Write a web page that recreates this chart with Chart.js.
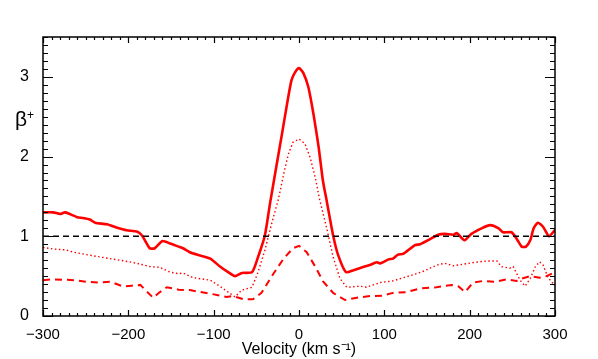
<!DOCTYPE html>
<html>
<head>
<meta charset="utf-8">
<script src="https://cdn.jsdelivr.net/npm/chart.js@4"></script>
<style>
  html, body { margin: 0; padding: 0; background: #fff; }
  #wrap { width: 598px; height: 359px; }
</style>
</head>
<body>
<div id="wrap"><canvas id="beta-chart"></canvas></div>
<script>
// values (velocity in km/s, beta+)
const solidV = [-300, -288, -280, -274, -260, -253, -245, -239, -225, -214, -202, -190, -184, -175, -169, -160, -151, -141, -136, -128, -116, -104, -93, -83, -75, -67, -55, -48, -40, -34, -26, -20, -14, -9, -5, 0, 5, 11, 17, 23, 28, 32, 40, 46, 55, 64, 71, 83, 91, 95, 105, 110, 116, 122, 136, 142, 153, 163, 171, 181, 185, 194, 202, 214, 224, 234, 239, 249, 255, 261, 266, 271, 275, 280, 286, 293, 300];
const solidB = [1.30, 1.30, 1.28, 1.30, 1.24, 1.23, 1.21, 1.17, 1.15, 1.11, 1.075, 1.06, 1.01, 0.85, 0.85, 0.94, 0.91, 0.87, 0.85, 0.80, 0.76, 0.72, 0.625, 0.55, 0.50, 0.54, 0.55, 0.74, 1.01, 1.41, 1.91, 2.28, 2.66, 2.95, 3.05, 3.11, 3.05, 2.87, 2.53, 2.12, 1.70, 1.47, 1.01, 0.76, 0.55, 0.575, 0.60, 0.64, 0.675, 0.66, 0.71, 0.72, 0.77, 0.78, 0.89, 0.90, 0.96, 1.02, 1.03, 1.02, 1.04, 0.95, 1.03, 1.10, 1.14, 1.10, 1.05, 1.05, 0.97, 0.87, 0.87, 0.95, 1.10, 1.17, 1.12, 1.00, 1.08];

const dotV = [-300, -288, -274, -264, -249, -233, -210, -196, -182, -175, -163, -151, -141, -136, -124, -104, -93, -83, -75, -67, -55, -48, -40, -32, -24, -18, -12.5, -7, 0, 7, 13, 19, 24, 32.5, 40, 48, 56, 71, 79, 95, 110, 122, 136, 148, 153, 165, 171, 181, 193, 204, 220, 232, 237, 247, 251, 259, 265, 271, 277, 282, 286, 292, 296, 300];
const dotB = [0.86, 0.84, 0.83, 0.80, 0.77, 0.74, 0.70, 0.675, 0.64, 0.62, 0.61, 0.55, 0.53, 0.54, 0.48, 0.45, 0.375, 0.30, 0.24, 0.325, 0.36, 0.55, 0.825, 1.16, 1.47, 1.78, 2.03, 2.18, 2.22, 2.16, 1.99, 1.74, 1.47, 1.10, 0.74, 0.47, 0.36, 0.375, 0.36, 0.42, 0.44, 0.48, 0.525, 0.57, 0.60, 0.65, 0.66, 0.63, 0.65, 0.67, 0.69, 0.69, 0.62, 0.60, 0.62, 0.45, 0.375, 0.47, 0.62, 0.68, 0.64, 0.48, 0.43, 0.38];

const dashV = [-300, -288, -264, -249, -233, -221, -206, -196, -186, -180, -171, -163, -155, -141, -128, -104, -85, -77, -65, -54, -44, -30, -18, -7, 0, 9, 19, 28.5, 40, 54, 68, 83, 97, 110, 126, 142, 153, 161, 179, 187, 194.5, 204, 216, 230, 243, 255, 261, 271, 282, 290, 298, 300];
const dashB = [0.45, 0.46, 0.45, 0.43, 0.42, 0.43, 0.37, 0.38, 0.39, 0.325, 0.23, 0.30, 0.36, 0.33, 0.325, 0.28, 0.24, 0.25, 0.21, 0.21, 0.29, 0.53, 0.72, 0.85, 0.88, 0.80, 0.62, 0.43, 0.29, 0.20, 0.23, 0.25, 0.255, 0.29, 0.30, 0.345, 0.355, 0.36, 0.39, 0.37, 0.30, 0.42, 0.44, 0.43, 0.46, 0.44, 0.47, 0.50, 0.48, 0.50, 0.54, 0.53];

const refV = [-300, 300];
const refB = [1, 1];

const xTicks = [-300, -200, -100, 0, 100, 200, 300];
const yTicks = [0, 1, 2, 3];

const FONT = '"Liberation Sans", Arial, Helvetica, sans-serif';

function pts(xs, ys) {
    return xs.map((x, i) => ({ x: x, y: ys[i] }));
}

// IDL-style frame with inward ticks on all four sides, plus the upright beta+ label
const framePlugin = {
    id: 'frame',
    afterDraw(chart) {
        const c = chart.ctx;
        const a = chart.chartArea;
        const xs = chart.scales.x;
        const ys = chart.scales.y;
        c.save();
        c.strokeStyle = '#000';
        c.lineWidth = 1.5;
        c.strokeRect(a.left, a.top, a.right - a.left, a.bottom - a.top);
        c.lineWidth = 1.2;
        c.beginPath();
        for (let v = -300; v <= 300; v += 10) {
            const px = Math.round(xs.getPixelForValue(v)) + 0.5;
            const len = (v % 100 === 0) ? 6 : 3;
            c.moveTo(px, a.bottom); c.lineTo(px, a.bottom - len);
            c.moveTo(px, a.top); c.lineTo(px, a.top + len);
        }
        for (let k = 0; k <= 35; k++) {
            const py = Math.round(ys.getPixelForValue(k / 10)) + 0.5;
            const len = (k % 10 === 0) ? 10 : 5;
            c.moveTo(a.left, py); c.lineTo(a.left + len, py);
            c.moveTo(a.right, py); c.lineTo(a.right - len, py);
        }
        c.stroke();

        c.fillStyle = '#000';
        c.textBaseline = 'alphabetic';
        c.font = '21px ' + FONT;
        c.fillText('β', 15, 126);
        c.font = '12px ' + FONT;
        c.fillText('+', 27, 119);
        c.restore();
    }
};

new Chart(document.getElementById('beta-chart'), {
    type: 'line',
    data: {
        datasets: [
            { data: pts(refV, refB), borderColor: '#000', borderWidth: 1.5, borderDash: [6, 4] },
            { data: pts(dashV, dashB), borderColor: '#ff0000', borderWidth: 2, borderDash: [7, 5] },
            { data: pts(dotV, dotB), borderColor: '#ff0000', borderWidth: 1.4, borderDash: [1.5, 2.5] },
            { data: pts(solidV, solidB), borderColor: '#ff0000', borderWidth: 2.6, tension: 0.2 }
        ]
    },
    options: {
        responsive: true,
        maintainAspectRatio: false,
        animation: false,
        layout: { padding: { left: 0, right: 43, top: 37, bottom: 0 } },
        elements: { point: { radius: 0 }, line: { tension: 0 } },
        plugins: { legend: { display: false }, tooltip: { enabled: false } },
        scales: {
            x: {
                type: 'linear',
                min: -300,
                max: 300,
                afterFit(scale) { scale.height = 43; },
                afterBuildTicks(scale) { scale.ticks = xTicks.map(v => ({ value: v })); },
                grid: { display: false },
                border: { display: false },
                ticks: {
                    color: '#000',
                    padding: 2,
                    maxRotation: 0,
                    font: { family: FONT, size: 15 },
                    callback: v => String(v).replace('-', '\u2212')
                },
                title: {
                    display: true,
                    text: 'Velocity (km s\u207B\u00B9)',
                    color: '#000',
                    font: { family: FONT, size: 16 },
                    padding: { top: 0, bottom: 0 }
                }
            },
            y: {
                min: 0,
                max: 3.5,
                afterFit(scale) { scale.width = 43; },
                afterBuildTicks(scale) { scale.ticks = yTicks.map(v => ({ value: v })); },
                grid: { display: false },
                border: { display: false },
                ticks: {
                    color: '#000',
                    padding: 6,
                    font: { family: FONT, size: 16 }
                }
            }
        }
    },
    plugins: [framePlugin]
});
</script>
</body>
</html>
